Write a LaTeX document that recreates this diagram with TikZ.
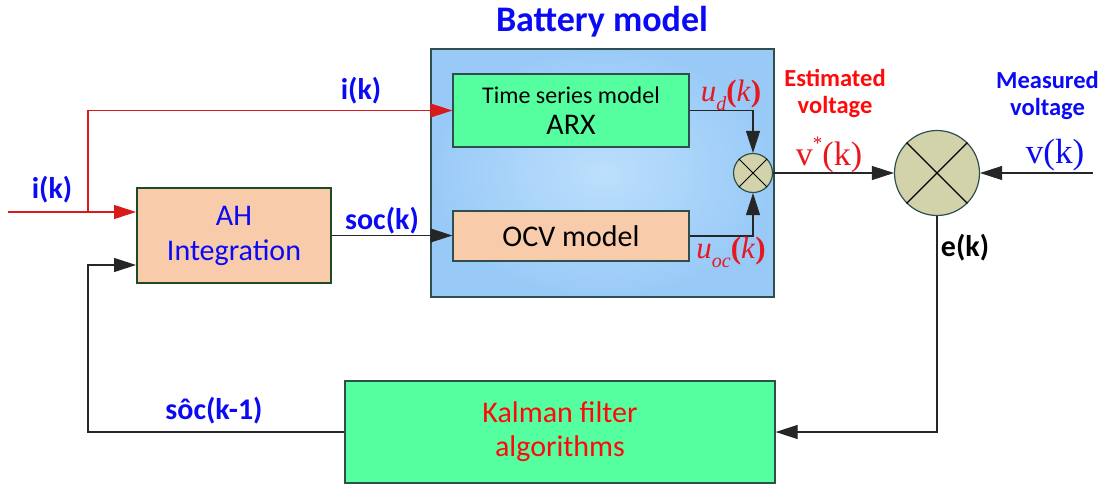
\documentclass[tikz,border=0pt]{standalone}
\usepackage{fontspec}
\setmainfont{Carlito}
\newfontfamily\tms{Liberation Serif}
\usetikzlibrary{arrows.meta,calc}
\definecolor{bgreen}{HTML}{55FFA0}
\definecolor{peach}{HTML}{F8CBAA}
\definecolor{khaki}{HTML}{D2D3AA}
\definecolor{bord}{HTML}{2F4F4F}
\definecolor{ahbord}{HTML}{1F4A2A}
\definecolor{lblue}{HTML}{0A0AF5}
\definecolor{lred}{HTML}{FF0A0A}
\definecolor{mred}{HTML}{E8161E}
\definecolor{batin}{HTML}{BCDFFC}
\definecolor{batout}{HTML}{99CAF7}
\definecolor{redline}{HTML}{D91A1A}
\tikzset{
  blk/.style={draw=bord, line width=1.3pt, inner sep=0pt, anchor=center},
  sumc/.style={circle, draw=bord, line width=1.2pt, fill=khaki, inner sep=0pt},
  conn/.style={line width=1.1pt, draw=black!85, -{Triangle[length=22pt,width=14pt]}},
  redconn/.style={line width=1.1pt, draw=redline, -{Triangle[length=22pt,width=14pt]}},
  blab/.style={font=\fontsize{30}{34}\selectfont\bfseries, text=lblue, inner sep=0pt},
  tlab/.style={font=\fontsize{24.5}{27}\selectfont\bfseries, align=center, inner sep=0pt},
}
\begin{document}
\begin{tikzpicture}[x=1pt,y=-1pt]
\useasboundingbox (0,0) rectangle (1103,485);
% battery model container
\node[blk, minimum width=343pt, minimum height=248pt, inner color=batin, outer color=batout] (bat) at (602.5,173) {};
\node[font=\fontsize{36}{40}\selectfont\bfseries, text=lblue, inner sep=0pt] (battitle) at (602,22) {Battery model};
% blocks
\node[blk, fill=bgreen, minimum width=236pt, minimum height=73pt, align=center] (arx) at (571,110.5)
  {\fontsize{24}{24}\selectfont Time series model\\[11pt]\fontsize{30}{30}\selectfont ARX};
\node[blk, fill=peach, minimum width=236pt, minimum height=50pt, font=\fontsize{30}{34}\selectfont] (ocv) at (571,236) {OCV model};
\node[blk, draw=ahbord, line width=2pt, fill=peach, minimum width=194pt, minimum height=95pt, align=center, text=lblue, font=\fontsize{30}{35}\selectfont] (ah) at (234,235.5) {AH\\Integration};
\node[blk, fill=bgreen, minimum width=430pt, minimum height=102pt, align=center, text=lred, font=\fontsize{30}{34}\selectfont] (kal) at (560,432) {Kalman filter\\algorithms};
% summing junctions
\node[sumc, minimum size=39pt] (sc) at (753,173) {};
\draw[line width=1pt] (sc.45) -- (sc.225) (sc.135) -- (sc.315);
\node[sumc, minimum size=85pt] (big) at (937,173) {};
\draw[line width=1.1pt] (big.45) -- (big.225) (big.135) -- (big.315);
% coordinates
\coordinate (in) at (8,212);
\coordinate (br) at (88,212);
\coordinate (vin) at (1093,173);
\coordinate (fb) at (88,265);
% connectors
\draw[redconn] (in) -- (in -| ah.west);
\draw[redconn] (br) |- (arx.west);
\draw[conn] (ah.east) -- (ah.east -| ocv.west);
\draw[conn] (arx.east) -| (sc.north);
\draw[conn] (ocv.east) -| (sc.south);
\draw[conn] (sc.east) -- (big.west);
\draw[conn] (vin) -- (big.east);
\draw[conn] (big.south) |- (kal.east);
\draw[conn] (kal.west) -| (fb) -- (fb -| ah.west);
% labels
\node[blab] (ik1) at (361,91) {i(k)};
\node[blab] (ik2) at (52,190) {i(k)};
\node[blab] (sock) at (382,221) {soc(k)};
\node[blab] (sockm) at (214,411) {s\^{o}c(k-1)};
\node[blab, text=black] (ek) at (965,248) {e(k)};
\node[tlab, text=lred] (est) at (835,93) {Estimated\\voltage};
\node[tlab, text=lblue] (meas) at (1047.5,95) {Measured\\voltage};
\node[text=mred, inner sep=0pt, font=\tms\fontsize{34}{38}\selectfont] (vstar) at (829,155) {v\raisebox{0.45em}{\fontsize{19}{19}\selectfont *}(k)};
\node[text=lblue, inner sep=0pt, font=\tms\fontsize{35}{38}\selectfont] (vk) at (1055,155) {v(k)};
\node[text=mred, inner sep=0pt, font=\tms\fontsize{31}{34}\selectfont] (ud) at (731,95) {\textit{u}\raisebox{-0.3em}{\fontsize{20}{20}\selectfont\itshape d}\textbf{(}\textit{k}\textbf{)}};
\node[text=mred, inner sep=0pt, font=\tms\fontsize{31}{34}\selectfont] (uoc) at (731,252) {\textit{u}\raisebox{-0.3em}{\fontsize{20}{20}\selectfont\itshape oc}\textbf{(}\textit{k}\textbf{)}};
\end{tikzpicture}
\end{document}
